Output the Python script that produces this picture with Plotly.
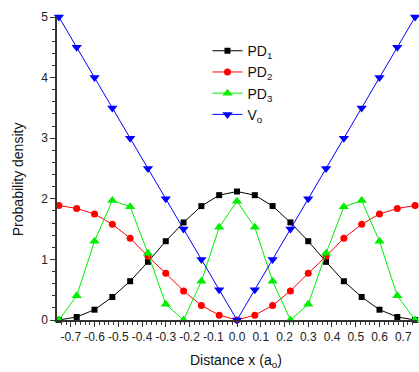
import plotly.graph_objects as go

x = [-0.75, -0.675, -0.6, -0.525, -0.45, -0.375, -0.3, -0.225, -0.15, -0.075, 0.0,
     0.075, 0.15, 0.225, 0.3, 0.375, 0.45, 0.525, 0.6, 0.675, 0.75]
pd1 = [0.0, 0.05, 0.17, 0.38, 0.64, 0.96, 1.30, 1.61, 1.88, 2.06, 2.12,
       2.06, 1.88, 1.61, 1.30, 0.96, 0.64, 0.38, 0.17, 0.05, 0.0]
pd2 = [1.89, 1.84, 1.75, 1.58, 1.35, 1.05, 0.77, 0.48, 0.24, 0.08, 0.0,
       0.08, 0.24, 0.48, 0.77, 1.05, 1.35, 1.58, 1.75, 1.84, 1.89]
pd3 = [0.0, 0.40, 1.30, 1.97, 1.87, 1.10, 0.26, 0.0, 0.64, 1.53, 1.96,
       1.53, 0.64, 0.0, 0.26, 1.10, 1.87, 1.97, 1.30, 0.40, 0.0]
v0 = [5.0, 4.5, 4.0, 3.5, 3.0, 2.5, 2.0, 1.5, 1.0, 0.5, 0.0,
      0.5, 1.0, 1.5, 2.0, 2.5, 3.0, 3.5, 4.0, 4.5, 5.0]

xtick_vals = [-0.7, -0.6, -0.5, -0.4, -0.3, -0.2, -0.1, 0.0, 0.1, 0.2, 0.3, 0.4, 0.5, 0.6, 0.7]
xtick_text = ["-0.7", "-0.6", "-0.5", "-0.4", "-0.3", "-0.2", "-0.1", "0.0",
              "0.1", "0.2", "0.3", "0.4", "0.5", "0.6", "0.7"]
ytick_vals = [0, 1, 2, 3, 4, 5]

series = [
    ("PD<sub>1</sub>", pd1, "#000000", "square", 6),
    ("PD<sub>2</sub>", pd2, "#ff0000", "circle", 7),
    ("PD<sub>3</sub>", pd3, "#00ee00", "triangle-up", 9),
    ("V<sub>o</sub>", v0, "#0000ff", "triangle-down", 9),
]

fig = go.Figure()
for name, ys, color, sym, size in series:
    fig.add_trace(go.Scatter(
        x=x, y=ys, name=name, mode="lines+markers",
        line=dict(color=color, width=1),
        marker=dict(color=color, symbol=sym, size=size, line=dict(width=0)),
        cliponaxis=False,
    ))

fig.update_layout(
    width=419, height=372,
    margin=dict(l=57, r=2, t=17, b=52, autoexpand=False),
    paper_bgcolor="white", plot_bgcolor="white",
    font=dict(family="Liberation Sans, Arial, sans-serif", color="#222222", size=12),
    showlegend=True,
    legend=dict(x=0.418, y=0.94, xanchor="left", yanchor="top",
                bgcolor="rgba(0,0,0,0)", font=dict(size=14, color="#111111"),
                tracegroupgap=0),
    annotations=[
        dict(text="Distance x (a<sub>o</sub>)", xref="paper", yref="paper",
             x=0.498, y=-0.135, xanchor="center", yanchor="middle",
             showarrow=False, font=dict(size=14, color="#111111")),
        dict(text="Probability density", xref="paper", yref="paper",
             x=-0.108, y=0.465, xanchor="center", yanchor="middle", textangle=-90,
             showarrow=False, font=dict(size=14, color="#111111")),
    ],
)
fig.update_xaxes(
    range=[-0.758, 0.758], tickmode="array", tickvals=xtick_vals, ticktext=xtick_text,
    ticks="outside", ticklen=5, tickwidth=1, tickcolor="#333333",
    minor=dict(dtick=0.02, tick0=0, ticks="outside", ticklen=3, tickcolor="#333333"),
    showline=True, linecolor="#333333", linewidth=1.5,
    showgrid=False, zeroline=False, automargin=False,
    tickfont=dict(size=12),
)
fig.update_yaxes(
    range=[0, 5.0], tickvals=ytick_vals,
    ticks="outside", ticklen=5, tickwidth=1, tickcolor="#333333",
    minor=dict(dtick=0.2, tick0=0, ticks="outside", ticklen=3, tickcolor="#333333"),
    showline=True, linecolor="#333333", linewidth=1.5,
    showgrid=False, zeroline=False, automargin=False,
    tickfont=dict(size=12),
)

fig.write_html("out.html", config={"displayModeBar": False},
               post_script="document.body.style.margin='0px';")
